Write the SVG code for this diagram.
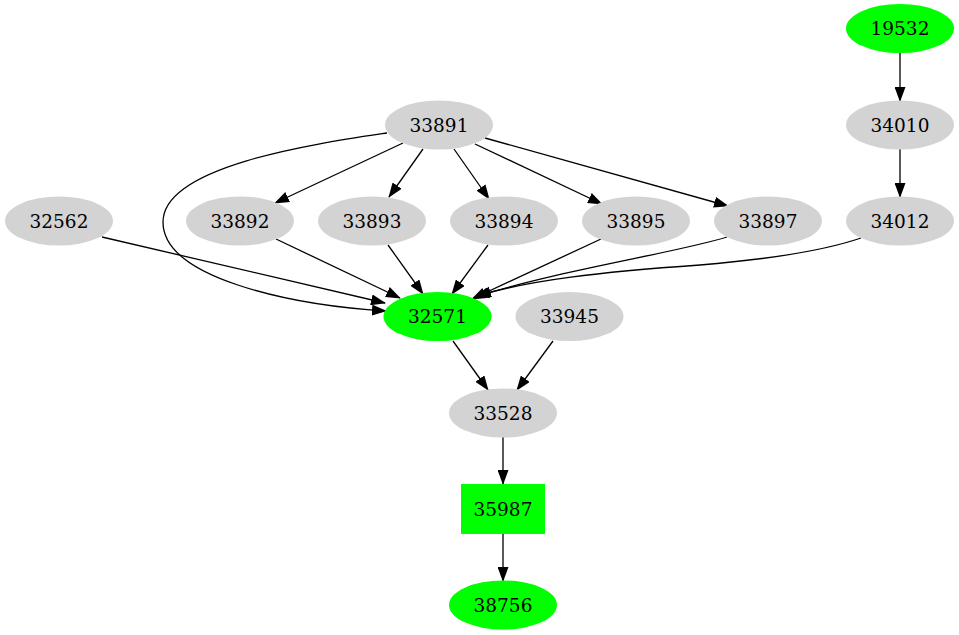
<svg xmlns="http://www.w3.org/2000/svg" width="959" height="635" viewBox="0 0 959 635">
<style>
.g{fill:#d3d3d3}
.n{fill:#00ff00}
text{font-family:"DejaVu Serif","Liberation Serif",serif;font-size:18.5px;text-anchor:middle;fill:#000}
.e path{fill:none;stroke:#000;stroke-width:1.3}
</style>
<defs>
<marker id="a" markerUnits="userSpaceOnUse" markerWidth="15" markerHeight="11" viewBox="0 0 15 11" refX="14" refY="5.5" orient="auto">
<polygon points="0,0 15,5.5 0,11" fill="#000"/>
</marker>
</defs>
<rect width="959" height="635" fill="#fff"/>
<g class="e" id="edges">
<path marker-end="url(#a)" d="M900,53 L900,101"/>
<path marker-end="url(#a)" d="M900,149 L900,197"/>
<path marker-end="url(#a)" d="M403,143 L275,203"/>
<path marker-end="url(#a)" d="M423,149 L389,197"/>
<path marker-end="url(#a)" d="M454,149 L489,199"/>
<path marker-end="url(#a)" d="M475,144 L602,204"/>
<path marker-end="url(#a)" d="M485,138 L728,206"/>
<path marker-end="url(#a)" d="M387,133 C320,143 163,165 163,222 C163,278 290,305 386,311"/>
<path marker-end="url(#a)" d="M102,237 L385,303"/>
<path marker-end="url(#a)" d="M276,239 L400,298"/>
<path marker-end="url(#a)" d="M388,245 L423,294"/>
<path marker-end="url(#a)" d="M488,245 L452,294"/>
<path marker-end="url(#a)" d="M601,239 L472,299"/>
<path marker-end="url(#a)" d="M727,237 C680,252 560,270 475,297"/>
<path marker-end="url(#a)" d="M861,238 C820,252 760,260 700,265 C600,272 530,280 477,296"/>
<path marker-end="url(#a)" d="M453,341 L488,390"/>
<path marker-end="url(#a)" d="M553,341 L517,390"/>
<path marker-end="url(#a)" d="M503,437 L503,484"/>
<path marker-end="url(#a)" d="M503,534 L503,581"/>
</g>
<g id="n19532"><ellipse class="n" cx="900" cy="28.5" rx="54" ry="24.5"/><text x="900" y="35">19532</text></g>
<g id="n34010"><ellipse class="g" cx="900" cy="125" rx="54" ry="24.5"/><text x="900" y="131.5">34010</text></g>
<g id="n34012"><ellipse class="g" cx="900" cy="221" rx="54" ry="24.5"/><text x="900" y="227.5">34012</text></g>
<g id="n33891"><ellipse class="g" cx="439" cy="125" rx="54" ry="24.5"/><text x="439" y="131.5">33891</text></g>
<g id="n32562"><ellipse class="g" cx="59" cy="221" rx="54" ry="24.5"/><text x="59" y="227.5">32562</text></g>
<g id="n33892"><ellipse class="g" cx="240" cy="221" rx="54" ry="24.5"/><text x="240" y="227.5">33892</text></g>
<g id="n33893"><ellipse class="g" cx="372" cy="221" rx="54" ry="24.5"/><text x="372" y="227.5">33893</text></g>
<g id="n33894"><ellipse class="g" cx="504" cy="221" rx="54" ry="24.5"/><text x="504" y="227.5">33894</text></g>
<g id="n33895"><ellipse class="g" cx="636" cy="221" rx="54" ry="24.5"/><text x="636" y="227.5">33895</text></g>
<g id="n33897"><ellipse class="g" cx="768" cy="221" rx="54" ry="24.5"/><text x="768" y="227.5">33897</text></g>
<g id="n32571"><ellipse class="n" cx="437.5" cy="316.5" rx="54" ry="24.5"/><text x="437.5" y="323">32571</text></g>
<g id="n33945"><ellipse class="g" cx="569.5" cy="316.5" rx="54" ry="24.5"/><text x="569.5" y="323">33945</text></g>
<g id="n33528"><ellipse class="g" cx="503" cy="413" rx="54" ry="24.5"/><text x="503" y="419.5">33528</text></g>
<g id="n35987"><rect class="n" x="461" y="484" width="84" height="50"/><text x="503" y="515.5">35987</text></g>
<g id="n38756"><ellipse class="n" cx="503" cy="605" rx="54" ry="24.5"/><text x="503" y="611.5">38756</text></g>
</svg>
